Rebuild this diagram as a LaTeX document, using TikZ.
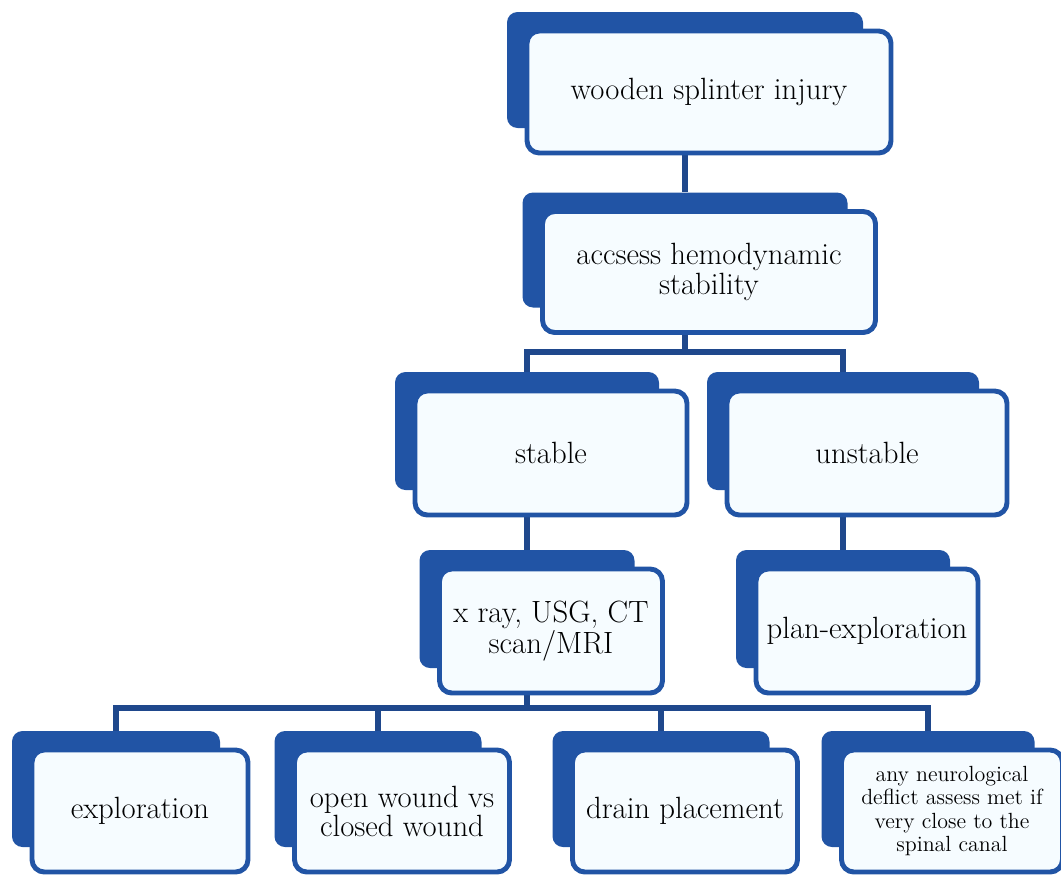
\documentclass[tikz,border=0pt]{standalone}
\usepackage{tikz}
\usetikzlibrary{backgrounds}
\definecolor{boxblue}{RGB}{33,84,165}
\definecolor{lineblue}{RGB}{31,72,140}
\definecolor{boxfill}{RGB}{246,252,255}
\newcommand{\boxfont}{\fontsize{17.5}{15.5}\selectfont}
\newcommand{\smallfont}{\fontsize{12.5}{13.2}\selectfont}

\begin{document}
\begin{tikzpicture}[x=0.02cm, y=-0.02cm,
    back/.style={fill=boxblue, rounded corners=6pt},
    front/.style={draw=boxblue, fill=boxfill, line width=2.8pt,
      rounded corners=7pt, align=center},
    link/.style={draw=lineblue, line width=3.8pt}]
  \useasboundingbox (0,0) rectangle (1061,877);

  % boxes: dark one behind, white one in front
  \foreach \n/\x/\y/\w/\h/\f/\t in {
      injury/685/70/356/116/\boxfont/{wooden splinter injury},
      assess/685/250/325/115/\boxfont/{accsess hemodynamic\\stability},
      stable/527/431/264/118/\boxfont/{stable},
      unstable/843/431/272/118/\boxfont/{unstable},
      imaging/527/609/215/118/\boxfont/{x ray, USG, CT\\scan/MRI},
      plan/843/609/214/118/\boxfont/{plan-exploration},
      explor/116/789/208/116/\boxfont/{exploration},
      wound/378/789/207/116/\boxfont/{open wound vs\\closed wound},
      drain/661/789/217/116/\boxfont/{drain placement},
      neuro/928/789/213/116/\smallfont/{any neurological\\deflict assess met if\\very close to the\\spinal canal}}
  {
    \node[back, minimum width=\w*0.02cm, minimum height=\h*0.02cm] (\n) at (\x,\y) {};
    \node[front, font=\f, minimum width=\w*0.02cm+0.16cm,
      minimum height=\h*0.02cm+0.12cm, xshift=0.48cm, yshift=-0.44cm]
      (\n-f) at (\x,\y) {\t};
  }

  % connectors
  \begin{scope}[on background layer]
    \draw[link] (injury) -- (assess);
    \coordinate (split1) at (685,352);
    \draw[link] (assess.south) -- (split1) -| (stable.north);
    \draw[link] (split1) -| (unstable.north);
    \draw[link] (stable) -- (imaging);
    \draw[link] (unstable) -- (plan);
    \coordinate (split2) at (527,708);
    \draw[link] (imaging.south) -- (split2);
    \foreach \c in {explor,wound,drain,neuro}
      \draw[link] (split2) -| (\c.north);
  \end{scope}
\end{tikzpicture}
\end{document}
